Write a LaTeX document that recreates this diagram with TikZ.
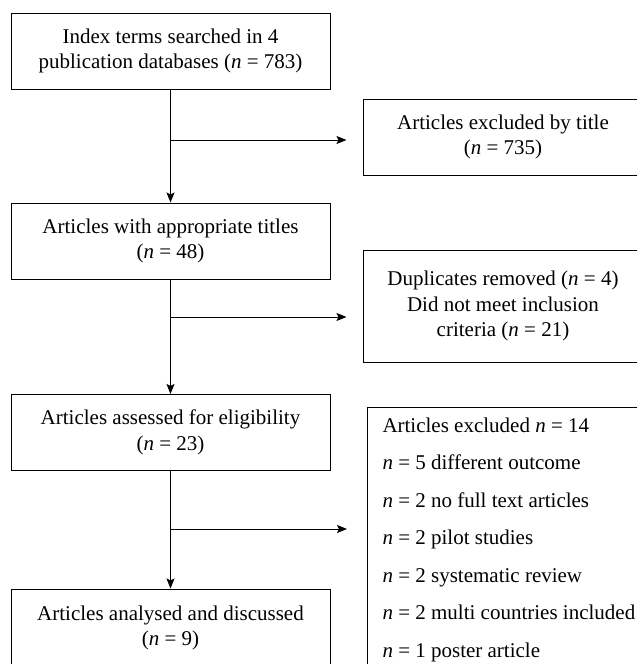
\documentclass[tikz,border=0pt]{standalone}
\usepackage{fontspec}
\setmainfont{Liberation Serif}
\usetikzlibrary{arrows.meta}

\tikzset{
  flowbox/.style={draw, line width=1pt, minimum width=319pt, minimum height=76pt, align=center, inner sep=4pt, font=\fontsize{21}{25.5}\selectfont},
  flowarrow/.style={line width=1pt, -{Stealth[length=10pt,width=8pt,inset=2pt]}},
}

\begin{document}
\begin{tikzpicture}[x=1pt, y=-1pt]
  \useasboundingbox (0,0) rectangle (637,664);
  \clip (0,0) rectangle (637,664);
  % main column
  \node[flowbox] (search) at (170.5,51) {Index terms searched in 4\\publication databases (\textit{n} = 783)};
  \node[flowbox] (titles) at (170.5,241) {Articles with appropriate titles\\(\textit{n} = 48)};
  \node[flowbox] (elig) at (170.5,432.5) {Articles assessed for eligibility\\(\textit{n} = 23)};
  \node[flowbox, minimum height=78pt] (final) at (170.5,628) {Articles analysed and discussed\\(\textit{n} = 9)};
  % excluded column
  \node[flowbox, minimum width=280pt] (byTitle) at (503,137) {Articles excluded by title\\(\textit{n} = 735)};
  \node[flowbox, minimum width=280pt, minimum height=112pt] (dupes) at (503,306) {Duplicates removed (\textit{n} = 4)\\Did not meet inclusion\\criteria (\textit{n} = 21)};
  \node[draw, line width=1pt, anchor=north west, align=flush left, text width=290pt, inner xsep=15pt, inner ysep=10pt, font=\fontsize{21}{37.5}\selectfont] (reasons) at (367,407) {Articles excluded \textit{n} = 14\\\textit{n} = 5 different outcome\\\textit{n} = 2 no full text articles\\\textit{n} = 2 pilot studies\\\textit{n} = 2 systematic review\\\textit{n} = 2 multi countries included\\\textit{n} = 1 poster article};
  % branch points
  \coordinate (b1) at (170.5,140);
  \coordinate (b2) at (170.5,317);
  \coordinate (b3) at (170.5,529);
  \draw[flowarrow] (search) -- (titles);
  \draw[flowarrow] (titles) -- (elig);
  \draw[flowarrow] (elig) -- (final);
  \draw[flowarrow, shorten >=16pt] (b1) -- (b1 -| byTitle.west);
  \draw[flowarrow, shorten >=16pt] (b2) -- (b2 -| dupes.west);
  \draw[flowarrow, shorten >=20pt] (b3) -- (b3 -| reasons.west);
\end{tikzpicture}
\end{document}
